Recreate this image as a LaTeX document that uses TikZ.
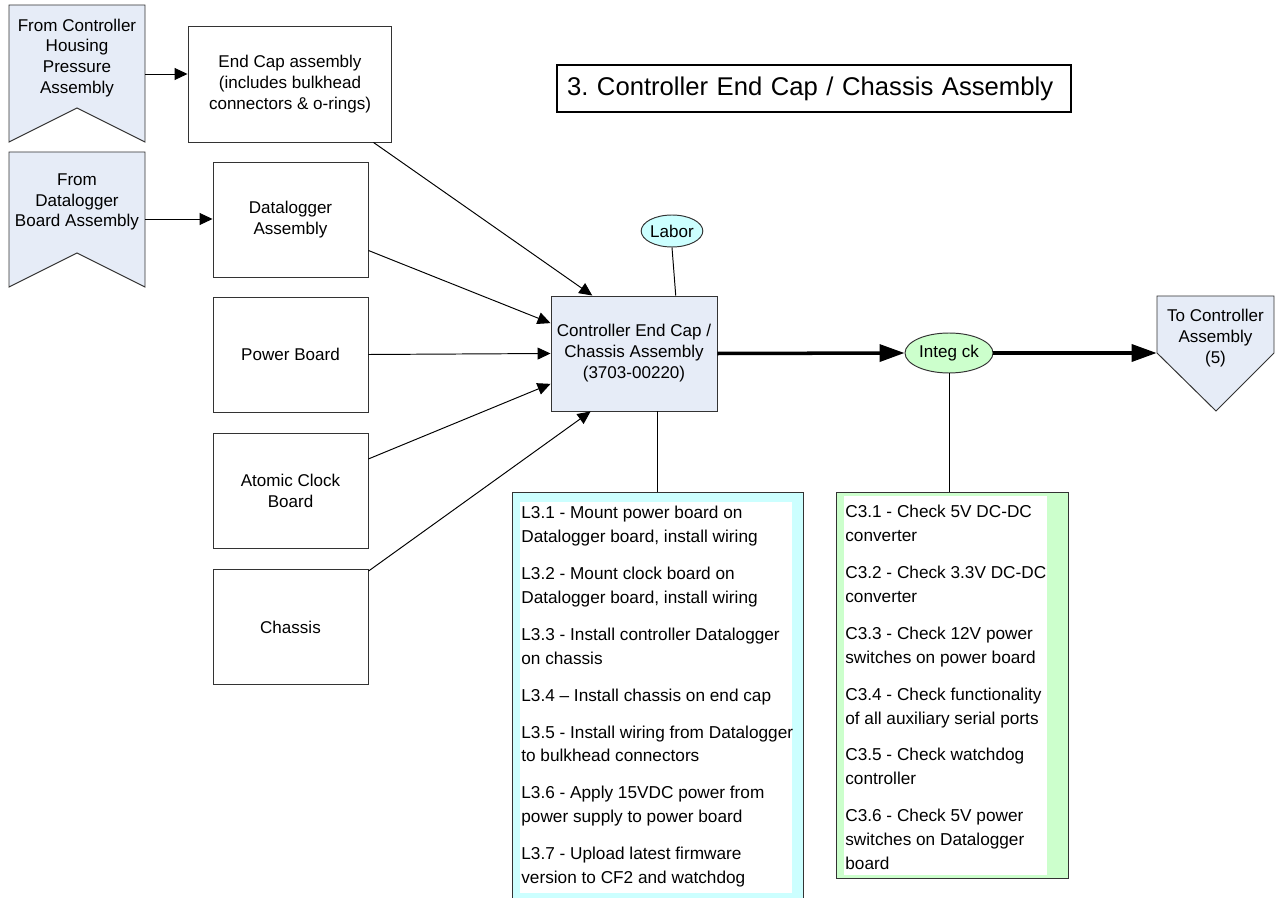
\documentclass[tikz,border=0pt]{standalone}
\usepackage{fontspec}
\setmainfont{Liberation Sans}
\usetikzlibrary{arrows.meta,shapes.geometric,calc}
\frenchspacing

\definecolor{slate}{HTML}{E6ECF7}
\definecolor{laborcyan}{HTML}{CCFFFF}
\definecolor{checkgreen}{HTML}{CCFFCC}

\def\cardfont{\fontsize{9.7}{11.9}\selectfont}
\def\listfont{\fontsize{9.8}{13.6}\selectfont}
\def\headfont{\fontsize{14.6}{17}\selectfont}
\def\itemgap{7.4pt}

\tikzset{
  box/.style={draw=black!80, line width=0.55pt, fill=white, minimum width=3.1cm, minimum height=2.3cm, align=center, font=\cardfont, inner sep=2pt},
  banner/.style={draw=black!80, line width=0.55pt, fill=slate},
  bannertext/.style={align=center, font=\cardfont, inner sep=0pt, minimum width=2.72cm},
  oval/.style={ellipse, draw=black!80, line width=0.55pt, font=\cardfont, inner sep=0pt},
  titlebox/.style={draw=black, line width=0.7pt, fill=white, font=\headfont, text width=9.88cm, align=left, inner xsep=0.2cm, minimum height=0.94cm},
  listframe/.style={draw=black!80, line width=0.55pt, inner sep=0pt, anchor=north west},
  listpanel/.style={fill=white, inner sep=0pt, anchor=north west},
  steplist/.style={font=\listfont, align=left, inner sep=0pt, anchor=north west},
  link/.style={line width=0.55pt},
  fat arrow/.style={line width=2pt, -{Triangle[length=0.5cm,width=0.34cm]}}
}

\begin{document}
\begin{tikzpicture}[x=0.02cm, y=-0.02cm, >={Triangle[length=0.26cm,width=0.24cm]}]
		\path[use as bounding box, clip] (0,0) rectangle (1276,898);
		
		% banner outlines (in / out)
		\draw[banner] (9,5) -- (145,5) -- (145,142) -- (77,108) -- (9,142) -- cycle;
		\draw[banner] (9,152) -- (145,152) -- (145,287) -- (77,253) -- (9,287) -- cycle;
		\draw[banner] (1157,296) -- (1274,296) -- (1274,353) -- (1216,411) -- (1157,353) -- cycle;
		
		\node[bannertext] (fromhousing) at (77,58) {From Controller\\Housing\\Pressure\\Assembly};
		\node[bannertext] (fromboard) at (77,202) {From\\Datalogger\\Board Assembly};
		\node[bannertext, minimum width=2.34cm] (tocontrol) at (1215.5,338) {To Controller\\Assembly\\(5)};
		\coordinate (housingout) at (145,74);
		\coordinate (boardout) at (145,219);
		
		% parts
		\node[box, minimum width=4.08cm, minimum height=2.32cm] (endcap) at (290,84) {End Cap assembly\\(includes bulkhead\\connectors \& o-rings)};
		\node[box] (datalogger) at (290.5,219.5) {Datalogger\\Assembly};
		\node[box] (power) at (290.5,354.5) {Power Board};
		\node[box] (clock) at (290.5,491) {Atomic Clock\\Board};
		\node[box] (chassis) at (290.5,627) {Chassis};
		
		\node[box, fill=slate, minimum width=3.32cm] (main) at (634,353.5) {Controller End Cap /\\Chassis Assembly\\(3703-00220)};
		\node[oval, fill=laborcyan, minimum width=1.2cm, minimum height=0.64cm] (labor) at (672,231) {Labor};
		\node[oval, fill=checkgreen, minimum width=1.76cm, minimum height=0.8cm] (integ) at (949,353) {Integ ck};
		
		\node[titlebox] (title) at (814,88.5) {3. Controller End Cap / Chassis Assembly};
		
		% labor steps
		\node[listframe, fill=laborcyan, minimum width=5.82cm, minimum height=8.4cm] (lbox) at (512,492) {};
		\node[listpanel, minimum width=5.44cm, minimum height=7.82cm] (lpanel) at (520,502) {};
		\node[steplist] (lsteps) at (521,506) {L3.1 - Mount power board on\\Datalogger board, install wiring\\[\itemgap]
			L3.2 - Mount clock board on\\Datalogger board, install wiring\\[\itemgap]
			L3.3 - Install controller Datalogger\\on chassis\\[\itemgap]
			L3.4 – Install chassis on end cap\\[\itemgap]
			L3.5 - Install wiring from Datalogger\\to bulkhead connectors\\[\itemgap]
			L3.6 - Apply 15VDC power from\\power supply to power board\\[\itemgap]
			L3.7 - Upload latest firmware\\version to CF2 and watchdog};
		
		% integration checks
		\node[listframe, fill=checkgreen, minimum width=4.64cm, minimum height=7.72cm] (cbox) at (836,492) {};
		\node[listpanel, minimum width=4.06cm, minimum height=7.58cm] (cpanel) at (844,496) {};
		\node[steplist] (csteps) at (845,505) {C3.1 - Check 5V DC-DC\\converter\\[\itemgap]
			C3.2 - Check 3.3V DC-DC\\converter\\[\itemgap]
			C3.3 - Check 12V power\\switches on power board\\[\itemgap]
			C3.4 - Check functionality\\of all auxiliary serial ports\\[\itemgap]
			C3.5 - Check watchdog\\controller\\[\itemgap]
			C3.6 - Check 5V power\\switches on Datalogger\\board};
		
		% connectors
		\draw[link, ->] (housingout) -- (housingout -| endcap.west);
		\draw[link, ->] (boardout) -- (boardout -| datalogger.west);
		\draw[link, ->] (endcap) -- ($(main.north west)!0.25!(main.north east)$);
		\draw[link, ->] (datalogger) -- (main.160);
		\draw[link, ->] (power.east) -- (main.west);
		\draw[link, ->] (clock) -- (main.200);
		\draw[link, ->] (chassis) -- ($(main.south west)!0.24!(main.south east)$);
		
		\draw[fat arrow] (main.east) -- (integ.west);
		\draw[fat arrow] (integ.east) -- (integ.east -| tocontrol.west);
		
		\draw[link] (labor.south) -- ($(main.north west)!0.75!(main.north east)$);
		\draw[link] (lbox.north) -- (lbox.north |- main.south);
		\draw[link] (integ.south) -- (integ.south |- cbox.north);
		
	\end{tikzpicture}
\end{document}
